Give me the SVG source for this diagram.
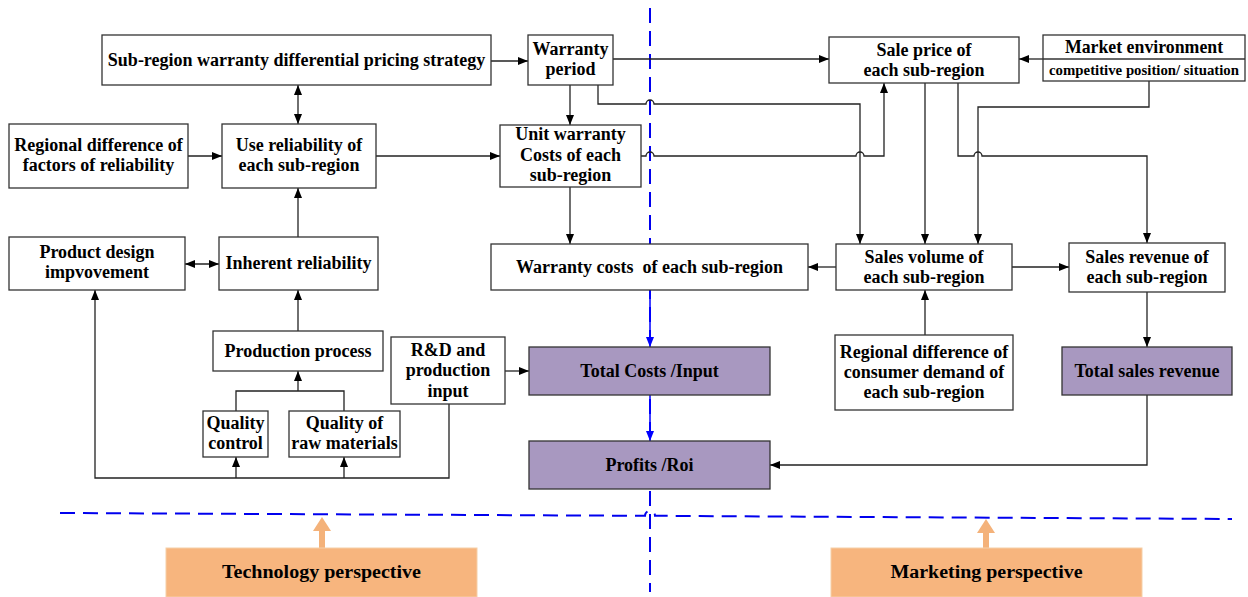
<svg xmlns="http://www.w3.org/2000/svg" width="1248" height="597" viewBox="0 0 1248 597">
<defs>
<marker id="ah" markerWidth="10" markerHeight="8" refX="10" refY="4" orient="auto-start-reverse" markerUnits="userSpaceOnUse">
<path d="M0,0 L10,4 L0,8 z" fill="#000"/>
</marker>
<marker id="ahb" markerWidth="10" markerHeight="8" refX="10" refY="4" orient="auto" markerUnits="userSpaceOnUse">
<path d="M0,0 L10,4 L0,8 z" fill="#0000ff"/>
</marker>
<style>
.box{fill:#fff;stroke:#333;stroke-width:1.3}
.pbox{fill:#a898c0;stroke:#333;stroke-width:1.3}
.obox{fill:#f7b57e;stroke:#f5cfa8;stroke-width:1}
.t{font-family:"Liberation Serif","Times New Roman",serif;font-weight:bold;font-size:18px;fill:#000;text-anchor:middle}
.c{fill:none;stroke:#222;stroke-width:1.3}
.a{marker-end:url(#ah)}
.both{marker-start:url(#ah);marker-end:url(#ah)}
.blue{fill:none;stroke:#0000ff;stroke-width:1.5;marker-end:url(#ahb)}
.dash{fill:none;stroke:#0000ee;stroke-width:2;stroke-dasharray:15 8}
</style>
</defs>
<g id="guides">
<path class="dash" d="M650,8 V592"/>
<path class="dash" d="M60,513 L645,515.8 a5,5 0 0 1 10,0 L1232,519"/>
</g>
<g id="connectors">
<path class="c a" d="M491,61 H528"/>
<path class="c both" d="M298,85 V124"/>
<path class="c a" d="M188,156 H222"/>
<path class="c a" d="M376,156 H500"/>
<path class="c a" d="M570,85 V125"/>
<path class="c a" d="M613,59 H829"/>
<path class="c a" d="M598,85 V104 H646 a4,4 0 0 1 8,0 H860 V244"/>
<path class="c a" d="M641,156 H646 a4,4 0 0 1 8,0 H856 a4,4 0 0 1 8,0 H884 V83"/>
<path class="c a" d="M570,187 V244"/>
<path class="c a" d="M925,83 V244"/>
<path class="c a" d="M958,83 V156 H974 a4,4 0 0 1 8,0 H1147 V243"/>
<path class="c a" d="M1149,81 V107 H978 V244"/>
<path class="c a" d="M1043,59 H1019"/>
<path class="c a" d="M836,267 H808"/>
<path class="c a" d="M1012,267 H1069"/>
<path class="c a" d="M925,335 V290"/>
<path class="c a" d="M1147,292 V347"/>
<path class="c a" d="M1147,395 V465 H770"/>
<path class="blue" d="M650,290 V347"/>
<path class="blue" d="M650,395 V441"/>
<path class="c a" d="M505,371 H529"/>
<path class="c a" d="M298,237 V188"/>
<path class="c both" d="M185,264 H219"/>
<path class="c a" d="M298,331 V290"/>
<path class="c" d="M236,411 V391 H344 V411"/>
<path class="c a" d="M298,391 V371"/>
<path class="c a" d="M449,404 V478 H95 V290"/>
<path class="c a" d="M236,478 V457"/>
<path class="c a" d="M344,478 V457"/>
<path d="M322,548 V530" stroke="#f4b27a" stroke-width="6" fill="none"/>
<path d="M313,531 L322,517 L331,531 z" fill="#f4b27a"/>
<path d="M986,548 V532" stroke="#f4b27a" stroke-width="6" fill="none"/>
<path d="M977,533 L986,519 L995,533 z" fill="#f4b27a"/>
</g>
<g id="n-strategy"><rect class="box" x="102" y="35" width="389" height="50"/><text class="t" x="296.5" y="66">Sub-region warranty differential pricing strategy</text></g>
<g id="n-period"><rect class="box" x="528" y="35" width="85" height="50"/><text class="t" x="570.5" y="55">Warranty</text><text class="t" x="570.5" y="75">period</text></g>
<g id="n-unitcost"><rect class="box" x="500" y="125" width="141" height="62"/><text class="t" x="570.5" y="140">Unit warranty</text><text class="t" x="570.5" y="161">Costs of each</text><text class="t" x="570.5" y="181">sub-region</text></g>
<g id="n-saleprice"><rect class="box" x="829" y="37" width="190" height="46"/><text class="t" x="924" y="56">Sale price of</text><text class="t" x="924" y="76">each sub-region</text></g>
<g id="n-market"><rect class="box" x="1043" y="35" width="202" height="46"/><line x1="1043" y1="59" x2="1245" y2="59" stroke="#333" stroke-width="1.3"/><text class="t" x="1144" y="53" style="font-size:17.8px">Market environment</text><text class="t" x="1144" y="75" style="font-size:14.8px">competitive position/ situation</text></g>
<g id="n-regfactors"><rect class="box" x="9" y="124" width="179" height="64"/><text class="t" x="98.5" y="151">Regional difference of</text><text class="t" x="98.5" y="171">factors of reliability</text></g>
<g id="n-usereliab"><rect class="box" x="222" y="124" width="154" height="64"/><text class="t" x="299" y="151">Use reliability of</text><text class="t" x="299" y="171">each sub-region</text></g>
<g id="n-design"><rect class="box" x="9" y="237" width="176" height="53"/><text class="t" x="97" y="258">Product design</text><text class="t" x="97" y="278">impvovement</text></g>
<g id="n-inherent"><rect class="box" x="219" y="237" width="159" height="53"/><text class="t" x="298.5" y="269">Inherent reliability</text></g>
<g id="n-production"><rect class="box" x="213" y="331" width="170" height="40"/><text class="t" x="298" y="357">Production process</text></g>
<g id="n-qc"><rect class="box" x="203" y="411" width="65" height="46"/><text class="t" x="235.5" y="429">Quality</text><text class="t" x="235.5" y="449">control</text></g>
<g id="n-qraw"><rect class="box" x="289" y="411" width="111" height="46"/><text class="t" x="344.5" y="429">Quality of</text><text class="t" x="344.5" y="449">raw materials</text></g>
<g id="n-rd"><rect class="box" x="391" y="337" width="114" height="67"/><text class="t" x="448" y="356">R&amp;D and</text><text class="t" x="448" y="376">production</text><text class="t" x="448" y="397">input</text></g>
<g id="n-warrcosts"><rect class="box" x="491" y="244" width="317" height="46"/><text class="t" x="649.5" y="273" style="white-space:pre">Warranty costs  of each sub-region</text></g>
<g id="n-totalcosts"><rect class="pbox" x="529" y="347" width="241" height="48"/><text class="t" x="649.5" y="377">Total Costs /Input</text></g>
<g id="n-profits"><rect class="pbox" x="529" y="441" width="241" height="48"/><text class="t" x="649.5" y="471">Profits /Roi</text></g>
<g id="n-salesvol"><rect class="box" x="836" y="244" width="176" height="46"/><text class="t" x="924" y="263">Sales volume of</text><text class="t" x="924" y="283">each sub-region</text></g>
<g id="n-salesrev"><rect class="box" x="1069" y="243" width="156" height="49"/><text class="t" x="1147" y="263">Sales revenue of</text><text class="t" x="1147" y="283">each sub-region</text></g>
<g id="n-regdemand"><rect class="box" x="835" y="335" width="178" height="75"/><text class="t" x="924" y="358">Regional difference of</text><text class="t" x="924" y="378">consumer demand of</text><text class="t" x="924" y="398">each sub-region</text></g>
<g id="n-totalrev"><rect class="pbox" x="1062" y="347" width="170" height="48"/><text class="t" x="1147" y="377">Total sales revenue</text></g>
<g id="n-tech"><rect class="obox" x="166" y="548" width="311" height="49"/><text class="t" x="321.5" y="578" style="font-size:18.5px" textLength="199" lengthAdjust="spacingAndGlyphs">Technology perspective</text></g>
<g id="n-market-persp"><rect class="obox" x="831" y="548" width="311" height="49"/><text class="t" x="986.5" y="578" style="font-size:18.5px" textLength="192" lengthAdjust="spacingAndGlyphs">Marketing perspective</text></g>
</svg>
